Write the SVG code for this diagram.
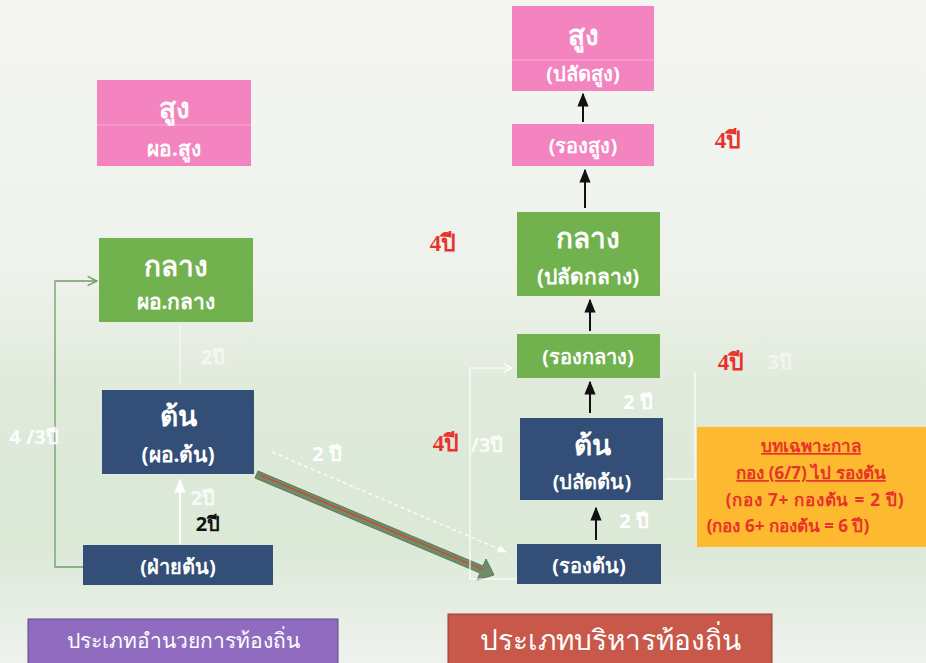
<svg xmlns="http://www.w3.org/2000/svg" width="926" height="663" viewBox="0 0 926 663">
<defs>
<linearGradient id="bg" x1="0" y1="0" x2="0" y2="1">
<stop offset="0" stop-color="#f4f5f1"/>
<stop offset="0.4" stop-color="#eff2ec"/>
<stop offset="0.6" stop-color="#dfeada"/>
<stop offset="0.82" stop-color="#dce9d7"/>
<stop offset="1" stop-color="#eef2ee"/>
</linearGradient>
<marker id="blk" viewBox="0 0 10 10" refX="9" refY="5" markerWidth="7" markerHeight="7" orient="auto"><path d="M0,1 L10,5 L0,9 z" fill="#111"/></marker>
<marker id="wht" viewBox="0 0 10 10" refX="9" refY="5" markerWidth="7" markerHeight="7" orient="auto"><path d="M0,1 L10,5 L0,9 z" fill="#ffffff"/></marker>
<marker id="open" viewBox="0 0 10 10" refX="9" refY="5" markerWidth="9" markerHeight="9" orient="auto"><path d="M1,1 L9,5 L1,9" fill="none" stroke="#6f9d68" stroke-width="1.2"/></marker>
<marker id="openw" viewBox="0 0 10 10" refX="9" refY="5" markerWidth="9" markerHeight="9" orient="auto"><path d="M1,1 L9,5 L1,9" fill="none" stroke="#ffffff" stroke-width="1.2"/></marker>
<style>
text{font-family:"Noto Sans","DejaVu Sans",sans-serif;text-anchor:middle;}
.w{fill:#ffffff;font-weight:bold;}
.big{font-size:28px;}
.mid{font-size:21px;}
.sm{font-size:20px;}
.red{fill:#e8322c;font-weight:bold;font-size:23px;font-family:"Liberation Serif","DejaVu Serif",serif;}
.wl{fill:#ffffff;font-weight:bold;font-size:20px;}
.or{fill:#e8322c;font-weight:bold;font-size:17px;}
.pink{fill:#f384c0;}
.green{fill:#71b24f;}
.navy{fill:#334f78;}
.div{stroke:#f9a9d3;stroke-width:1;}
.blkarr{stroke:#111;stroke-width:2;fill:none;marker-end:url(#blk);}
</style>
</defs>
<rect x="0" y="0" width="926" height="663" fill="url(#bg)"/>

<g id="connectors">
<path d="M83,567 H55 V281 H97" fill="none" stroke="#6f9d68" stroke-width="1.3" marker-end="url(#open)"/>
<line x1="180" y1="385" x2="180" y2="326" stroke="#ffffff" stroke-width="1.2" opacity="0.7"/>
<line x1="180" y1="544" x2="180" y2="480" stroke="#ffffff" stroke-width="2" marker-end="url(#wht)"/>
<line x1="272" y1="452" x2="506" y2="552" stroke="#ffffff" stroke-width="1.3" stroke-dasharray="4,3" marker-end="url(#wht)"/>
<path d="M258,471 L483,566 L486,559 L494,575 L477,580 L480,573 L255,478 z" fill="#6d8c67" stroke="#5e7a5a" stroke-width="1"/>
<line x1="260" y1="475" x2="484" y2="570" stroke="#e23a36" stroke-width="1.3"/>
<path d="M517,579 H470 V368 H512" fill="none" stroke="#ffffff" stroke-width="1.2" marker-end="url(#openw)"/>
<path d="M665,479 H695 V372" fill="none" stroke="#ffffff" stroke-width="1.2"/>
<line x1="583" y1="122" x2="583" y2="94" class="blkarr"/>
<line x1="585" y1="208" x2="585" y2="170" class="blkarr"/>
<line x1="590" y1="331" x2="590" y2="300" class="blkarr"/>
<line x1="590" y1="413" x2="590" y2="382" class="blkarr"/>
<line x1="596" y1="540" x2="596" y2="508" class="blkarr"/>
</g>

<g id="left-sung">
<rect x="97" y="80" width="154" height="86" class="pink"/>
<line x1="97" y1="125" x2="251" y2="125" class="div"/>
<text x="174" y="118" class="w big">สูง</text>
<text x="174" y="156" class="w mid">ผอ.สูง</text>
</g>
<g id="left-klang">
<rect x="99" y="238" width="154" height="84" class="green"/>
<text x="176" y="276" class="w big">กลาง</text>
<text x="176" y="309" class="w mid">ผอ.กลาง</text>
</g>
<g id="left-ton">
<rect x="102" y="390" width="152" height="84" class="navy"/>
<text x="178" y="426" class="w big">ต้น</text>
<text x="178" y="462" class="w mid">(ผอ.ต้น)</text>
</g>
<g id="left-faiton">
<rect x="83" y="545" width="190" height="40" class="navy"/>
<text x="178" y="574" class="w sm">(ฝ่ายต้น)</text>
</g>

<g id="right-sung">
<rect x="512" y="6" width="142" height="85" class="pink"/>
<line x1="512" y1="60" x2="654" y2="60" class="div"/>
<text x="583" y="45" class="w big">สูง</text>
<text x="583" y="81" class="w sm">(ปลัดสูง)</text>
</g>
<g id="right-rongsung">
<rect x="512" y="124" width="142" height="42" class="pink"/>
<text x="583" y="153" class="w sm">(รองสูง)</text>
</g>
<g id="right-klang">
<rect x="517" y="212" width="143" height="84" class="green"/>
<text x="588" y="248" class="w big">กลาง</text>
<text x="588" y="284" class="w mid">(ปลัดกลาง)</text>
</g>
<g id="right-rongklang">
<rect x="517" y="334" width="143" height="44" class="green"/>
<text x="588" y="364" class="w sm">(รองกลาง)</text>
</g>
<g id="right-ton">
<rect x="520" y="418" width="143" height="82" class="navy"/>
<text x="592" y="455" class="w big">ต้น</text>
<text x="592" y="489" class="w sm">(ปลัดต้น)</text>
</g>
<g id="right-rongton">
<rect x="517" y="544" width="144" height="40" class="navy"/>
<text x="589" y="573" class="w sm">(รองต้น)</text>
</g>

<g id="special">
<rect x="697" y="427" width="229" height="120" fill="#fdb92f"/>
<text x="811" y="452" class="or" text-decoration="underline">บทเฉพาะกาล</text>
<text x="811" y="479" class="or" text-decoration="underline">กอง (6/7) ไป รองต้น</text>
<text x="815" y="506" class="or" letter-spacing="0.8">(กอง 7+ กองต้น  = 2 ปี)</text>
<text x="788" y="532" class="or">(กอง 6+ กองต้น = 6 ปี)</text>
</g>

<g id="labels">
<text x="728" y="148" class="red">4ปี</text>
<text x="443" y="251" class="red">4ปี</text>
<text x="731" y="370" class="red">4ปี</text>
<text x="446" y="451" class="red">4ปี</text>
<text x="487" y="452" class="wl" font-size="17" opacity="0.85">/3ปี</text>
<text x="780" y="369" class="wl" font-size="17" opacity="0.5">3ปี</text>
<text x="34" y="444" class="wl" font-size="18" opacity="0.9">4 /3ปี</text>
<text x="213" y="364" class="wl" opacity="0.6">2ปี</text>
<text x="208" y="531" class="wl" style="fill:#111">2ปี</text>
<text x="203" y="505" class="wl" font-size="17" opacity="0.8">2ปี</text>
<text x="327" y="461" class="wl">2 ปี</text>
<text x="638" y="409" class="wl">2 ปี</text>
<text x="634" y="528" class="wl">2 ปี</text>
</g>

<g id="type-admin">
<rect x="28" y="619" width="310" height="50" fill="#8f6cbf" stroke="#5d4a86" stroke-width="1"/>
<text x="183" y="648" fill="#ffffff" font-size="21">ประเภทอำนวยการท้องถิ่น</text>
</g>
<g id="type-exec">
<rect x="448" y="614" width="324" height="55" fill="#c8594a" stroke="#8e3d33" stroke-width="1"/>
<text x="610" y="650" fill="#ffffff" font-size="28">ประเภทบริหารท้องถิ่น</text>
</g>
</svg>
